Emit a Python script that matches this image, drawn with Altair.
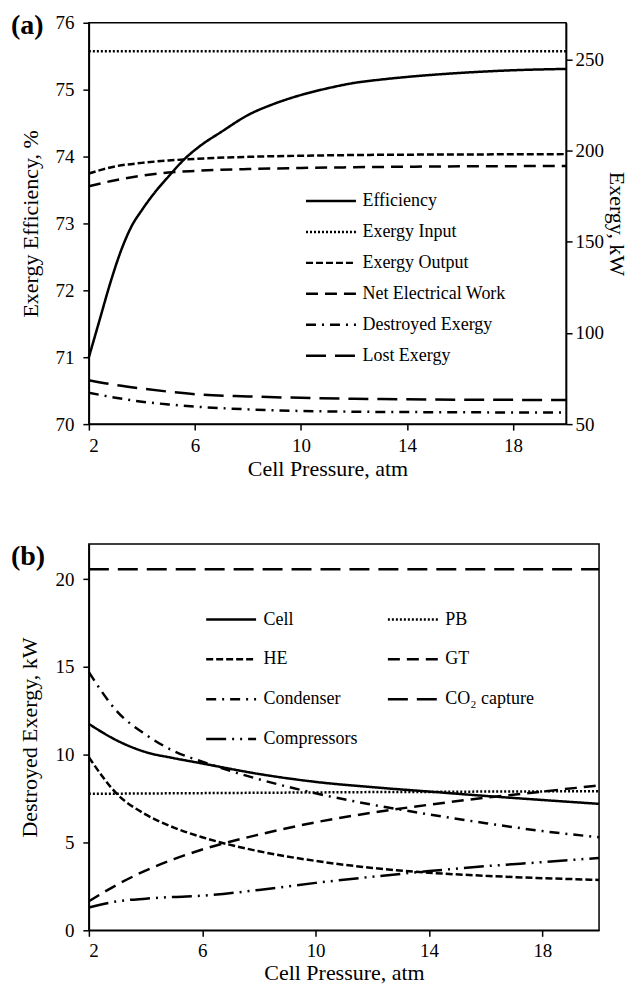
import altair as alt
import pandas as pd

FONT = "Liberation Serif"

# ---------------- Panel (a) data ----------------
x_eff = [2, 2.4, 2.8, 3.2, 3.6, 4, 4.5, 5, 5.6, 6.2, 7, 8, 9, 10, 11, 12, 13, 14, 16, 18, 20]
efficiency = [71.0, 71.55, 72.1, 72.58, 72.95, 73.2, 73.47, 73.7, 73.96, 74.16, 74.37,
              74.62, 74.79, 74.92, 75.02, 75.1, 75.15, 75.19, 75.25, 75.29, 75.31]

x_p = [2, 3, 4, 5, 6, 8, 10, 12, 14, 16, 18, 20]
exergy_input = [254.4, 254.4, 254.4, 254.4, 254.4, 254.4, 254.4, 254.4, 254.4, 254.4, 254.4, 254.4]
exergy_output = [187.4, 191.3, 193.2, 194.5, 195.4, 196.5, 197.1, 197.5, 197.7, 197.8, 197.9, 198.0]
net_work = [180.4, 183.7, 186.2, 187.9, 188.8, 189.8, 190.4, 190.8, 191.1, 191.3, 191.4, 191.5]
destroyed = [67.2, 64.5, 62.3, 60.8, 59.6, 58.1, 57.2, 56.8, 56.6, 56.5, 56.4, 56.4]
lost = [74.1, 71.5, 69.5, 67.8, 66.4, 65.2, 64.4, 63.9, 63.6, 63.4, 63.3, 63.2]

series_a = ["Efficiency", "Exergy Input", "Exergy Output", "Net Electrical Work",
            "Destroyed Exergy", "Lost Exergy"]

# ---------------- Panel (b) data ----------------
cell = [11.75, 10.8, 10.15, 9.8, 9.5, 8.9, 8.45, 8.15, 7.9, 7.65, 7.42, 7.2]
pb = [7.77, 7.78, 7.79, 7.8, 7.81, 7.83, 7.85, 7.87, 7.88, 7.9, 7.91, 7.92]
he = [9.85, 7.75, 6.6, 5.85, 5.3, 4.5, 3.95, 3.55, 3.28, 3.1, 2.97, 2.87]
gt = [1.65, 2.6, 3.4, 4.05, 4.6, 5.45, 6.15, 6.7, 7.15, 7.55, 7.9, 8.25]
condenser = [14.7, 12.45, 11.15, 10.2, 9.6, 8.6, 7.8, 7.15, 6.6, 6.1, 5.65, 5.3]
co2 = [20.56, 20.56, 20.56, 20.56, 20.56, 20.56, 20.56, 20.56, 20.56, 20.56, 20.56, 20.56]
compressors = [1.3, 1.65, 1.8, 1.9, 1.97, 2.3, 2.7, 3.05, 3.37, 3.65, 3.88, 4.12]

# legend is filled column by column: left column first, then right column
series_b = ["Cell", "HE", "Condenser", "Compressors", "PB", "GT", "CO₂ capture"]

# ---------------- build tables ----------------
df_eff = pd.DataFrame({"p": x_eff, "v": efficiency, "series": "Efficiency"})
rows = []
for name, vals in [("Exergy Input", exergy_input), ("Exergy Output", exergy_output),
                   ("Net Electrical Work", net_work), ("Destroyed Exergy", destroyed),
                   ("Lost Exergy", lost)]:
    for p, v in zip(x_p, vals):
        rows.append({"p": p, "v": v, "series": name})
df_rest = pd.DataFrame(rows)

rows_b = []
for name, vals in [("Cell", cell), ("PB", pb), ("HE", he), ("GT", gt),
                   ("Condenser", condenser), ("CO₂ capture", co2), ("Compressors", compressors)]:
    for p, v in zip(x_p, vals):
        rows_b.append({"p": p, "v": v, "series": name})
df_b = pd.DataFrame(rows_b)

solid = [1, 0]
dotted = [2, 2]
short_dash = [7, 3]
med_dash = [12, 7]
dash_dot = [10, 6, 2, 6]
long_dash = [20, 9]
long_dash_dot_dot = [20, 6, 2, 6, 2, 6]

dash_a = alt.Scale(domain=series_a,
                   range=[solid, dotted, short_dash, med_dash, dash_dot, long_dash])
dash_b = alt.Scale(domain=series_b,
                   range=[solid, short_dash, dash_dot, long_dash_dot_dot,
                          dotted, med_dash, long_dash])

SYM = "M-2.5,0H2.5"

legend_a = alt.Legend(orient="none", legendX=231, legendY=167, title=None,
                      symbolType=SYM, symbolSize=400, symbolStrokeWidth=2.5,
                      symbolStrokeColor="black", symbolFillColor="transparent",
                      labelFont=FONT, labelFontSize=18, labelColor="black",
                      labelOffset=20, rowPadding=10, padding=0)
legend_b = alt.Legend(orient="none", legendX=131, legendY=64, title=None, columns=2,
                      symbolType=SYM, symbolSize=400, symbolStrokeWidth=2.5,
                      symbolStrokeColor="black", symbolFillColor="transparent",
                      labelFont=FONT, labelFontSize=18, labelColor="black",
                      labelOffset=21, rowPadding=19, columnPadding=25, padding=0)

x_axis_a = alt.Axis(values=[2, 6, 10, 14, 18], title="Cell Pressure, atm",
                    labelPadding=6, titlePadding=3)
x_axis_b = alt.Axis(values=[2, 6, 10, 14, 18], title="Cell Pressure, atm",
                    labelPadding=5, titlePadding=2)
x_enc = alt.X("p:Q", scale=alt.Scale(domain=[2, 20], nice=False, zero=False), axis=x_axis_a)

eff = alt.Chart(df_eff).mark_line(color="black", strokeWidth=2.5, interpolate="monotone").encode(
    x=x_enc,
    y=alt.Y("v:Q", scale=alt.Scale(domain=[70, 76], nice=False, zero=False),
            axis=alt.Axis(orient="left", values=[70, 71, 72, 73, 74, 75, 76],
                          title="Exergy Efficiency, %", labelPadding=9, titlePadding=12)),
    strokeDash=alt.StrokeDash("series:N", scale=dash_a, legend=legend_a),
)
rest = alt.Chart(df_rest).mark_line(color="black", strokeWidth=2.5, interpolate="monotone").encode(
    x=x_enc,
    y=alt.Y("v:Q", scale=alt.Scale(domain=[50, 270], nice=False, zero=False),
            axis=alt.Axis(orient="right", values=[50, 100, 150, 200, 250],
                          title="Exergy, kW", labelPadding=3, titlePadding=1,
                          titleFontSize=22)),
    strokeDash=alt.StrokeDash("series:N", scale=dash_a, legend=legend_a),
)

panel_a = alt.layer(eff, rest).resolve_scale(y="independent").properties(
    width=478, height=402,
    title=alt.TitleParams("(a)", anchor="start", frame="group", font=FONT, fontSize=28,
                          fontWeight="bold", color="black", dx=-78, offset=-26),
)

panel_b = alt.Chart(df_b).mark_line(color="black", strokeWidth=2.5, interpolate="monotone").encode(
    x=alt.X("p:Q", scale=alt.Scale(domain=[2, 20], nice=False, zero=False), axis=x_axis_b),
    y=alt.Y("v:Q", scale=alt.Scale(domain=[0, 22], nice=False, zero=False),
            axis=alt.Axis(values=[0, 5, 10, 15, 20], title="Destroyed Exergy, kW",
                          labelPadding=9, titlePadding=13)),
    strokeDash=alt.StrokeDash("series:N", scale=dash_b, legend=legend_b),
).properties(
    width=511, height=387,
    title=alt.TitleParams("(b)", anchor="start", frame="group", font=FONT, fontSize=28,
                          fontWeight="bold", color="black", dx=-78, offset=-27),
)

chart = alt.vconcat(panel_a, panel_b, spacing=62).resolve_scale(strokeDash="independent").properties(
    padding={"left": 2, "top": 2, "right": 0, "bottom": 0}
).configure(background="white").configure_axis(
    labelFont=FONT, titleFont=FONT, labelFontSize=19, titleFontSize=22,
    labelColor="black", titleColor="black", titleFontWeight="normal",
    domainColor="black", tickColor="black", domainWidth=1.5, tickWidth=1.5,
    tickSize=6, grid=False,
).configure_view(stroke="black", strokeWidth=1.5)

chart.save("out.html", embed_options={"renderer": "svg", "actions": False})
